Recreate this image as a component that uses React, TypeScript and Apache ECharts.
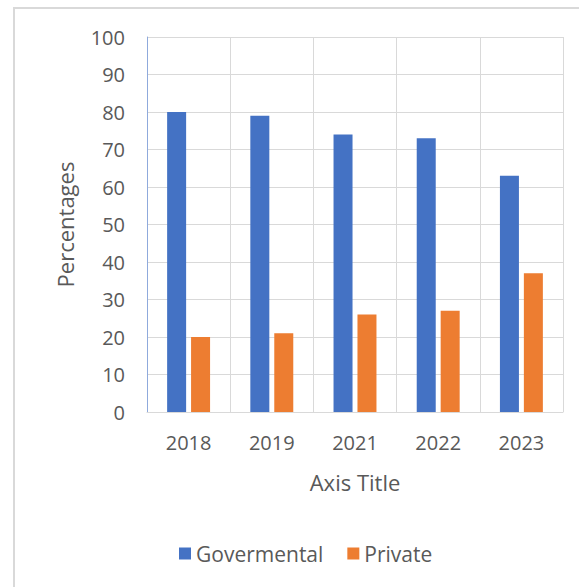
import React, { useEffect, useRef } from "react";
import * as echarts from "echarts";

const categories = ["2018", "2019", "2021", "2022", "2023"];
const governmental = [80, 79, 74, 73, 63];
const privateVals = [20, 21, 26, 27, 37];
const seriesNames = ["Govermental", "Private"];

const FONT = "'Open Sans', 'Noto Sans', sans-serif";
const TEXT = "#595959";

export default function App() {
  const ref = useRef<HTMLDivElement>(null);
  useEffect(() => {
    const chart = echarts.init(ref.current!, null, { renderer: "svg" });
    chart.setOption({
      animation: false,
      textStyle: { fontFamily: FONT },
      graphic: [
        {
          type: "rect",
          shape: { x: 14, y: 8, width: 620, height: 640 },
          style: { fill: "none", stroke: "#d9d9d9", lineWidth: 2 },
          silent: true,
        },
      ],
      grid: { left: 147, top: 37, right: 16, bottom: 175 },
      legend: {
        left: 174,
        top: 538,
        itemWidth: 12,
        itemHeight: 12,
        itemGap: 24,
        icon: "rect",
        data: seriesNames,
        textStyle: { color: TEXT, fontSize: 21, fontFamily: FONT },
      },
      xAxis: {
        type: "category",
        data: categories,
        boundaryGap: true,
        axisLine: { show: true, lineStyle: { color: "#d9d9d9", width: 1 } },
        axisTick: { show: false },
        splitLine: { show: true, lineStyle: { color: "#d9d9d9", width: 1 } },
        axisLabel: { color: TEXT, fontSize: 20, margin: 20, fontFamily: FONT },
        name: "Axis Title",
        nameLocation: "middle",
        nameGap: 59,
        nameTextStyle: { color: TEXT, fontSize: 22, fontFamily: FONT },
      },
      yAxis: {
        type: "value",
        min: 0,
        max: 100,
        interval: 10,
        axisLine: { show: true, lineStyle: { color: "#8faadc", width: 1 } },
        axisTick: { show: false },
        splitLine: { show: true, lineStyle: { color: "#d9d9d9", width: 1 } },
        axisLabel: { color: TEXT, fontSize: 20, margin: 22, fontFamily: FONT },
        name: "Percentages",
        nameLocation: "middle",
        nameGap: 71,
        nameTextStyle: { color: TEXT, fontSize: 22, fontFamily: FONT },
      },
      series: [
        {
          name: seriesNames[0],
          type: "bar",
          data: governmental,
          barWidth: 19,
          barGap: "26%",
          itemStyle: { color: "#4472c4" },
        },
        {
          name: seriesNames[1],
          type: "bar",
          data: privateVals,
          barWidth: 19,
          barGap: "26%",
          itemStyle: { color: "#ed7d31" },
        },
      ],
    });
    return () => chart.dispose();
  }, []);
  return (
    <div
      ref={ref}
      style={{ position: "absolute", left: 0, top: 0, width: 579, height: 587, background: "#fff" }}
    />
  );
}
